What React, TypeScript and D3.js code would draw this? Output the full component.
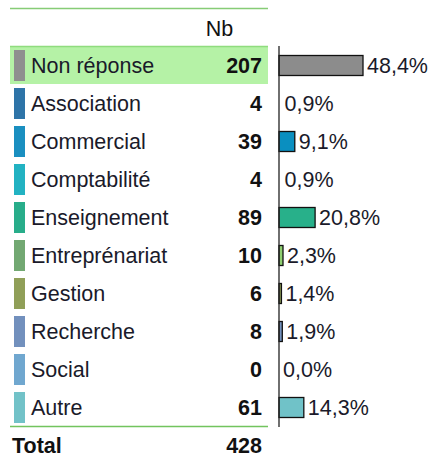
import React from "react";
import * as d3 from "d3";

const categories = [
  "Non réponse",
  "Association",
  "Commercial",
  "Comptabilité",
  "Enseignement",
  "Entreprénariat",
  "Gestion",
  "Recherche",
  "Social",
  "Autre",
];
const counts = [207, 4, 39, 4, 89, 10, 6, 8, 0, 61];
const percents = [48.4, 0.9, 9.1, 0.9, 20.8, 2.3, 1.4, 1.9, 0.0, 14.3];
const swatchColors = [
  "#8f8f8f",
  "#2e74a8",
  "#1a8fc0",
  "#22b2c2",
  "#28ad8a",
  "#72a872",
  "#909f58",
  "#7290bd",
  "#70a7cf",
  "#72c2c8",
];
const barColors = [
  "#8c8c8c",
  "#2e74a8",
  "#0a8fc0",
  "#22b2c2",
  "#28b08a",
  "#8fcf70",
  "#909f58",
  "#7290bd",
  "#70a7cf",
  "#70c2c8",
];
const totalLabel = "Total";
const totalValue = 428;
const headerLabel = "Nb";

const W = 433;
const H = 457;
const FONT = "'Liberation Sans', Arial, sans-serif";
const FS = 21.5;

export default function App() {
  const y = d3
    .scaleBand<string>()
    .domain(categories)
    .range([46, 426])
    .paddingInner(0)
    .paddingOuter(0);
  const x = d3.scaleLinear().domain([0, 48.4]).range([279, 363]);
  const fmt = (v: number) => d3.format(".1f")(v).replace(".", ",") + "%";
  const bh = y.bandwidth();

  return (
    <svg
      width={W}
      height={H}
      style={{ position: "absolute", left: 0, top: 0, background: "#fff" }}
      fontFamily={FONT}
    >
      <rect x={0} y={0} width={W} height={H} fill="#fff" />
      {/* top line */}
      <line x1={10} x2={268} y1={8.5} y2={8.5} stroke="#86cc76" strokeWidth={1.5} />
      <text x={219.5} y={36} fontSize={FS} textAnchor="middle" fill="#111">
        {headerLabel}
      </text>
      {/* highlight first row */}
      <rect
        x={10}
        y={y(categories[0])!}
        width={258}
        height={bh}
        fill="#b5f2a6"
      />
      <line
        x1={10}
        x2={268}
        y1={y(categories[0])! + 0.5}
        y2={y(categories[0])! + 0.5}
        stroke="#8fdc7e"
        strokeWidth={1.5}
      />
      {categories.map((c, i) => {
        const top = y(c)!;
        const cy = top + bh / 2;
        const w = x(percents[i]) - x(0);
        return (
          <g key={c}>
            <rect
              x={14}
              y={top + 4}
              width={11}
              height={bh - 7}
              fill={swatchColors[i]}
            />
            <text x={31} y={cy + 8} fontSize={FS} fill="#1a1a2a">
              {c}
            </text>
            <text
              x={262}
              y={cy + 8}
              fontSize={FS}
              fontWeight="bold"
              textAnchor="end"
              fill="#111"
            >
              {counts[i]}
            </text>
            {w >= 2 && (
              <rect
                x={x(0)}
                y={cy - 9.5}
                width={w}
                height={20}
                fill={barColors[i]}
                stroke="#111"
                strokeWidth={1.3}
              />
            )}
            <text x={x(percents[i]) + 4} y={cy + 8} fontSize={FS} fill="#1a1a2a">
              {fmt(percents[i])}
            </text>
          </g>
        );
      })}
      {/* axis line */}
      <line x1={279} x2={279} y1={46} y2={427} stroke="#222" strokeWidth={1.3} />
      {/* bottom green line */}
      <line x1={10} x2={268} y1={426.5} y2={426.5} stroke="#72c45e" strokeWidth={1.5} />
      <text x={12} y={452.5} fontSize={FS} fontWeight="bold" fill="#111">
        {totalLabel}
      </text>
      <text x={262} y={452.5} fontSize={FS} fontWeight="bold" textAnchor="end" fill="#111">
        {totalValue}
      </text>
    </svg>
  );
}
